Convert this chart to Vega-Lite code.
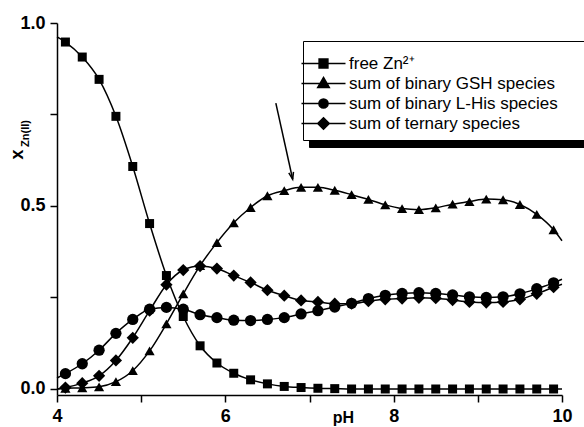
{
  "$schema": "https://vega.github.io/schema/vega-lite/v6.json",
  "width": 505,
  "height": 372,
  "autosize": {"type": "none"},
  "padding": {"left": 57, "top": 23, "right": 22, "bottom": 32},
  "background": "white",
  "config": {"view": {"stroke": null}, "font": "Liberation Sans"},
  "data": {
    "values": [
      {"pH": 4.0, "s": "Zn", "v": 0.962, "m": 0},
      {"pH": 4.1, "s": "Zn", "v": 0.948, "m": 1},
      {"pH": 4.3, "s": "Zn", "v": 0.907, "m": 1},
      {"pH": 4.5, "s": "Zn", "v": 0.846, "m": 1},
      {"pH": 4.7, "s": "Zn", "v": 0.745, "m": 1},
      {"pH": 4.9, "s": "Zn", "v": 0.608, "m": 1},
      {"pH": 5.1, "s": "Zn", "v": 0.452, "m": 1},
      {"pH": 5.3, "s": "Zn", "v": 0.31, "m": 1},
      {"pH": 5.5, "s": "Zn", "v": 0.198, "m": 1},
      {"pH": 5.7, "s": "Zn", "v": 0.118, "m": 1},
      {"pH": 5.9, "s": "Zn", "v": 0.071, "m": 1},
      {"pH": 6.1, "s": "Zn", "v": 0.043, "m": 1},
      {"pH": 6.3, "s": "Zn", "v": 0.025, "m": 1},
      {"pH": 6.5, "s": "Zn", "v": 0.014, "m": 1},
      {"pH": 6.7, "s": "Zn", "v": 0.007, "m": 1},
      {"pH": 6.9, "s": "Zn", "v": 0.004, "m": 1},
      {"pH": 7.1, "s": "Zn", "v": 0.002, "m": 1},
      {"pH": 7.3, "s": "Zn", "v": 0.001, "m": 1},
      {"pH": 7.5, "s": "Zn", "v": 0.0, "m": 1},
      {"pH": 7.7, "s": "Zn", "v": 0.0, "m": 1},
      {"pH": 7.9, "s": "Zn", "v": 0.0, "m": 1},
      {"pH": 8.1, "s": "Zn", "v": 0.0, "m": 1},
      {"pH": 8.3, "s": "Zn", "v": 0.0, "m": 1},
      {"pH": 8.5, "s": "Zn", "v": 0.0, "m": 1},
      {"pH": 8.7, "s": "Zn", "v": 0.0, "m": 1},
      {"pH": 8.9, "s": "Zn", "v": 0.0, "m": 1},
      {"pH": 9.1, "s": "Zn", "v": 0.0, "m": 1},
      {"pH": 9.3, "s": "Zn", "v": 0.0, "m": 1},
      {"pH": 9.5, "s": "Zn", "v": 0.0, "m": 1},
      {"pH": 9.7, "s": "Zn", "v": 0.0, "m": 1},
      {"pH": 9.9, "s": "Zn", "v": 0.0, "m": 1},
      {"pH": 10.0, "s": "Zn", "v": 0.0, "m": 0},

      {"pH": 4.0, "s": "GSH", "v": 0.0, "m": 0},
      {"pH": 4.1, "s": "GSH", "v": 0.002, "m": 1},
      {"pH": 4.3, "s": "GSH", "v": 0.003, "m": 1},
      {"pH": 4.5, "s": "GSH", "v": 0.006, "m": 1},
      {"pH": 4.7, "s": "GSH", "v": 0.02, "m": 1},
      {"pH": 4.9, "s": "GSH", "v": 0.05, "m": 1},
      {"pH": 5.1, "s": "GSH", "v": 0.104, "m": 1},
      {"pH": 5.3, "s": "GSH", "v": 0.178, "m": 1},
      {"pH": 5.5, "s": "GSH", "v": 0.26, "m": 1},
      {"pH": 5.7, "s": "GSH", "v": 0.337, "m": 1},
      {"pH": 5.9, "s": "GSH", "v": 0.4, "m": 1},
      {"pH": 6.1, "s": "GSH", "v": 0.454, "m": 1},
      {"pH": 6.3, "s": "GSH", "v": 0.496, "m": 1},
      {"pH": 6.5, "s": "GSH", "v": 0.528, "m": 1},
      {"pH": 6.7, "s": "GSH", "v": 0.542, "m": 1},
      {"pH": 6.9, "s": "GSH", "v": 0.551, "m": 1},
      {"pH": 7.1, "s": "GSH", "v": 0.551, "m": 1},
      {"pH": 7.3, "s": "GSH", "v": 0.543, "m": 1},
      {"pH": 7.5, "s": "GSH", "v": 0.531, "m": 1},
      {"pH": 7.7, "s": "GSH", "v": 0.518, "m": 1},
      {"pH": 7.9, "s": "GSH", "v": 0.503, "m": 1},
      {"pH": 8.1, "s": "GSH", "v": 0.493, "m": 1},
      {"pH": 8.3, "s": "GSH", "v": 0.49, "m": 1},
      {"pH": 8.5, "s": "GSH", "v": 0.495, "m": 1},
      {"pH": 8.7, "s": "GSH", "v": 0.505, "m": 1},
      {"pH": 8.9, "s": "GSH", "v": 0.512, "m": 1},
      {"pH": 9.1, "s": "GSH", "v": 0.519, "m": 1},
      {"pH": 9.3, "s": "GSH", "v": 0.517, "m": 1},
      {"pH": 9.5, "s": "GSH", "v": 0.504, "m": 1},
      {"pH": 9.7, "s": "GSH", "v": 0.477, "m": 1},
      {"pH": 9.9, "s": "GSH", "v": 0.435, "m": 1},
      {"pH": 10.0, "s": "GSH", "v": 0.405, "m": 0},

      {"pH": 4.0, "s": "His", "v": 0.03, "m": 0},
      {"pH": 4.1, "s": "His", "v": 0.042, "m": 1},
      {"pH": 4.3, "s": "His", "v": 0.069, "m": 1},
      {"pH": 4.5, "s": "His", "v": 0.106, "m": 1},
      {"pH": 4.7, "s": "His", "v": 0.152, "m": 1},
      {"pH": 4.9, "s": "His", "v": 0.19, "m": 1},
      {"pH": 5.1, "s": "His", "v": 0.218, "m": 1},
      {"pH": 5.3, "s": "His", "v": 0.223, "m": 1},
      {"pH": 5.5, "s": "His", "v": 0.218, "m": 1},
      {"pH": 5.7, "s": "His", "v": 0.203, "m": 1},
      {"pH": 5.9, "s": "His", "v": 0.195, "m": 1},
      {"pH": 6.1, "s": "His", "v": 0.188, "m": 1},
      {"pH": 6.3, "s": "His", "v": 0.187, "m": 1},
      {"pH": 6.5, "s": "His", "v": 0.19, "m": 1},
      {"pH": 6.7, "s": "His", "v": 0.195, "m": 1},
      {"pH": 6.9, "s": "His", "v": 0.205, "m": 1},
      {"pH": 7.1, "s": "His", "v": 0.214, "m": 1},
      {"pH": 7.3, "s": "His", "v": 0.224, "m": 1},
      {"pH": 7.5, "s": "His", "v": 0.234, "m": 1},
      {"pH": 7.7, "s": "His", "v": 0.247, "m": 1},
      {"pH": 7.9, "s": "His", "v": 0.256, "m": 1},
      {"pH": 8.1, "s": "His", "v": 0.261, "m": 1},
      {"pH": 8.3, "s": "His", "v": 0.263, "m": 1},
      {"pH": 8.5, "s": "His", "v": 0.261, "m": 1},
      {"pH": 8.7, "s": "His", "v": 0.257, "m": 1},
      {"pH": 8.9, "s": "His", "v": 0.252, "m": 1},
      {"pH": 9.1, "s": "His", "v": 0.25, "m": 1},
      {"pH": 9.3, "s": "His", "v": 0.252, "m": 1},
      {"pH": 9.5, "s": "His", "v": 0.26, "m": 1},
      {"pH": 9.7, "s": "His", "v": 0.274, "m": 1},
      {"pH": 9.9, "s": "His", "v": 0.29, "m": 1},
      {"pH": 10.0, "s": "His", "v": 0.3, "m": 0},

      {"pH": 4.0, "s": "ter", "v": 0.0, "m": 0},
      {"pH": 4.1, "s": "ter", "v": 0.004, "m": 1},
      {"pH": 4.3, "s": "ter", "v": 0.016, "m": 1},
      {"pH": 4.5, "s": "ter", "v": 0.036, "m": 1},
      {"pH": 4.7, "s": "ter", "v": 0.078, "m": 1},
      {"pH": 4.9, "s": "ter", "v": 0.14, "m": 1},
      {"pH": 5.1, "s": "ter", "v": 0.214, "m": 1},
      {"pH": 5.3, "s": "ter", "v": 0.285, "m": 1},
      {"pH": 5.5, "s": "ter", "v": 0.325, "m": 1},
      {"pH": 5.7, "s": "ter", "v": 0.336, "m": 1},
      {"pH": 5.9, "s": "ter", "v": 0.329, "m": 1},
      {"pH": 6.1, "s": "ter", "v": 0.31, "m": 1},
      {"pH": 6.3, "s": "ter", "v": 0.291, "m": 1},
      {"pH": 6.5, "s": "ter", "v": 0.27, "m": 1},
      {"pH": 6.7, "s": "ter", "v": 0.255, "m": 1},
      {"pH": 6.9, "s": "ter", "v": 0.242, "m": 1},
      {"pH": 7.1, "s": "ter", "v": 0.238, "m": 1},
      {"pH": 7.3, "s": "ter", "v": 0.233, "m": 1},
      {"pH": 7.5, "s": "ter", "v": 0.233, "m": 1},
      {"pH": 7.7, "s": "ter", "v": 0.24, "m": 1},
      {"pH": 7.9, "s": "ter", "v": 0.245, "m": 1},
      {"pH": 8.1, "s": "ter", "v": 0.247, "m": 1},
      {"pH": 8.3, "s": "ter", "v": 0.249, "m": 1},
      {"pH": 8.5, "s": "ter", "v": 0.248, "m": 1},
      {"pH": 8.7, "s": "ter", "v": 0.243, "m": 1},
      {"pH": 8.9, "s": "ter", "v": 0.238, "m": 1},
      {"pH": 9.1, "s": "ter", "v": 0.236, "m": 1},
      {"pH": 9.3, "s": "ter", "v": 0.238, "m": 1},
      {"pH": 9.5, "s": "ter", "v": 0.245, "m": 1},
      {"pH": 9.7, "s": "ter", "v": 0.26, "m": 1},
      {"pH": 9.9, "s": "ter", "v": 0.278, "m": 1},
      {"pH": 10.0, "s": "ter", "v": 0.286, "m": 0}
    ]
  },
  "layer": [
    {
      "layer": [
        {
          "mark": {"type": "line", "interpolate": "monotone", "color": "black", "strokeWidth": 1.5},
          "encoding": {
            "x": {
              "field": "pH", "type": "quantitative",
              "scale": {"domain": [4, 10], "nice": false, "zero": false},
              "axis": {
                "title": "pH",
                "values": [4, 5, 6, 7, 8, 9, 10],
                "format": "d",
                "labelExpr": "datum.value % 2 == 0 ? datum.label : ''",
                "labelFlush": false,
                "labelOverlap": false,
                "grid": false,
                "domainColor": "black", "domainWidth": 1.5,
                "tickColor": "black", "tickWidth": 1.5, "tickSize": 7,
                "labelFont": "Liberation Sans", "labelFontSize": 18, "labelFontWeight": "bold", "labelColor": "black",
                "labelPadding": 5,
                "titleFont": "Liberation Sans", "titleFontSize": 16, "titleFontWeight": "bold", "titleColor": "black",
                "titleX": 286, "titleY": 27, "titleAlign": "center", "titleBaseline": "alphabetic"
              }
            },
            "y": {
              "field": "v", "type": "quantitative",
              "scale": {"domain": [-0.0164, 1], "nice": false, "zero": false},
              "axis": {
                "title": "x",
                "values": [0, 0.25, 0.5, 0.75, 1],
                "labelExpr": "(datum.value == 0 || datum.value == 0.5 || datum.value == 1) ? format(datum.value, '.1f') : ''",
                "labelFlush": false,
                "labelOverlap": false,
                "grid": false,
                "domainColor": "black", "domainWidth": 1.5,
                "tickColor": "black", "tickWidth": 1.5, "tickSize": 7,
                "labelFont": "Liberation Sans", "labelFontSize": 18, "labelFontWeight": "bold", "labelColor": "black",
                "labelPadding": 5,
                "titleFont": "Liberation Sans", "titleFontSize": 18, "titleFontWeight": "bold", "titleColor": "black",
                "titleX": -40, "titleY": 131, "titleAngle": 270, "titleAlign": "center", "titleBaseline": "middle"
              }
            },
            "detail": {"field": "s", "type": "nominal"}
          }
        },
        {
          "transform": [{"filter": "datum.m == 1"}],
          "mark": {"type": "point", "filled": true, "color": "black", "opacity": 1},
          "encoding": {
            "x": {"field": "pH", "type": "quantitative"},
            "y": {"field": "v", "type": "quantitative"},
            "shape": {
              "field": "s", "type": "nominal",
              "scale": {"domain": ["Zn", "GSH", "His", "ter"], "range": ["square", "triangle-up", "circle", "diamond"]},
              "legend": null
            },
            "size": {
              "field": "s", "type": "nominal",
              "scale": {"domain": ["Zn", "GSH", "His", "ter"], "range": [81, 150, 95, 125]},
              "legend": null
            }
          }
        },
        {
          "data": {"values": [{"pH": 6.6, "v": 0.781, "pH2": 6.8, "v2": 0.573}]},
          "mark": {"type": "rule", "color": "black", "strokeWidth": 1.5},
          "encoding": {
            "x": {"field": "pH", "type": "quantitative"},
            "y": {"field": "v", "type": "quantitative"},
            "x2": {"field": "pH2"},
            "y2": {"field": "v2"}
          }
        },
        {
          "data": {"values": [{"pH": 6.6, "v": 0.781, "pH2": 6.8, "v2": 0.573}]},
          "mark": {"type": "point", "shape": "M-1.2,-3.5L0,0L1.2,-3.5", "filled": false, "size": 16, "angle": -12.6, "stroke": "black", "strokeWidth": 1.5, "opacity": 1},
          "encoding": {
            "x": {"field": "pH2", "type": "quantitative"},
            "y": {"field": "v2", "type": "quantitative"}
          }
        }
      ]
    },
    {
      "data": {"values": [{"v": 0.5, "series": "free Zn²⁺", "shadow": "k1"}]},
      "mark": {"type": "point", "filled": true, "color": "black", "opacity": 0},
      "encoding": {
        "y": {
          "field": "v", "type": "quantitative",
          "scale": {"domain": [0, 1]},
          "axis": {
            "orient": "left", "domain": false, "ticks": false, "labels": false, "grid": false,
            "title": "Zn(II)",
            "titleFont": "Liberation Sans", "titleFontSize": 11, "titleFontWeight": "bold", "titleColor": "black",
            "titleX": -32, "titleY": 110, "titleAngle": 270, "titleAlign": "center", "titleBaseline": "middle"
          }
        },
        "shape": {
          "field": "series", "type": "nominal",
          "scale": {
            "domain": ["free Zn²⁺", "sum of binary GSH species", "sum of binary L-His species", "sum of ternary species"],
            "range": [
              "M-5.5,0H5.5M-1.1,-1.1H1.1V1.1H-1.1ZM76,0H76.5",
              "M-5.5,0H5.5M0,-1.5L1.45,1.0H-1.45ZM76,0H76.5",
              "M-5.5,0H5.5M1.15,0A1.15,1.15,0,1,1,-1.15,0A1.15,1.15,0,1,1,1.15,0ZM76,0H76.5",
              "M-5.5,0H5.5M0,-1.45L1.45,0L0,1.45L-1.45,0ZM76,0H76.5"
            ]
          },
          "legend": {
            "title": "\u00a0", "titleFontSize": 4, "titlePadding": 3,
            "orient": "none", "legendX": 246, "legendY": 18, "zindex": 2,
            "padding": 7, "fillColor": "white", "strokeColor": "black",
            "labelFont": "Liberation Sans", "labelFontSize": 17, "labelColor": "black", "labelLimit": 600,
            "rowPadding": 2, "symbolSize": 64, "symbolStrokeWidth": 1.5,
            "symbolFillColor": "black", "symbolStrokeColor": "black", "symbolOpacity": 1,
            "symbolOffset": 5, "labelOffset": 17
          }
        },
        "color": {
          "field": "shadow", "type": "nominal",
          "scale": {
            "domain": ["k1", "k2", "k3", "k4"],
            "range": ["black", "black", "black", "black"]
          },
          "legend": {
            "title": "\u00a0", "titleFontSize": 4, "titlePadding": 3,
            "orient": "none", "legendX": 252, "legendY": 26, "zindex": 1,
            "padding": 7, "fillColor": "black", "strokeColor": "black",
            "labelFont": "Liberation Sans", "labelFontSize": 17, "labelColor": "black", "labelLimit": 600,
            "labelExpr": "'\u00a0'",
            "rowPadding": 2, "symbolSize": 64, "symbolStrokeWidth": 1.5,
            "symbolType": "M-1,-1H76V1H-1Z",
            "symbolFillColor": "black", "symbolStrokeColor": "black", "symbolOpacity": 1,
            "symbolOffset": 5, "labelOffset": 17
          }
        }
      }
    }
  ],
  "resolve": {"scale": {"y": "independent", "shape": "independent", "size": "independent", "color": "independent"}}
}
